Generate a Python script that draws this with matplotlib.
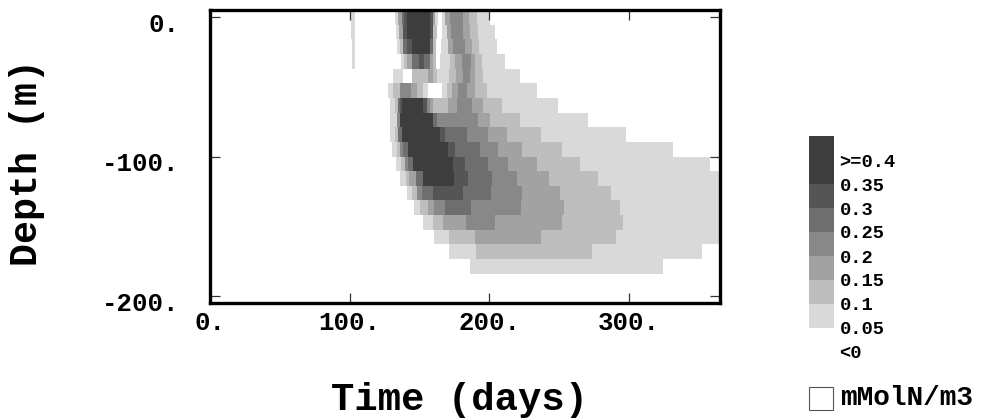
import numpy as np
import matplotlib
matplotlib.use("Agg")
import matplotlib.pyplot as plt
from matplotlib.colors import ListedColormap, BoundaryNorm
from matplotlib.cm import ScalarMappable
from matplotlib.patches import Rectangle
from matplotlib.transforms import ScaledTranslation

# ---------------- data ----------------
# depth levels (cell centres, m)
depth_step = 10.5
depths = -depth_step * np.arange(20)

# each row: (start_day, concentration) runs; value holds until the next start
r00 = [(100.7, .07), (103.8, 0), (132.4, .07), (134.8, .17), (137.2, .27), (138.9, .32), (140.8, .42), (157.5, .32), (159.4, .17), (161.1, .07), (163.5, 0), (165.8, .07), (168.2, .17), (171.8, .22), (181.4, .17), (185.6, .12), (190.9, .07), (200.4, 0)]
r01 = [(100.9, .07), (103.8, 0), (133.2, .07), (135.5, .17), (138.4, .32), (140.8, .42), (157.5, .32), (159.9, .12), (162.3, 0), (165.8, .07), (169.4, .17), (172.3, .22), (181.4, .17), (186.1, .12), (192.1, .07), (204.0, 0)]
r02 = [(101.4, .07), (103.8, 0), (133.6, .07), (136.0, .12), (138.4, .27), (140.8, .32), (144.4, .42), (157.5, .27), (159.4, .12), (161.8, 0), (165.4, .07), (170.6, .17), (173.7, .22), (182.5, .17), (187.3, .12), (192.8, .07), (205.2, 0)]
r03 = [(101.4, .07), (103.8, 0), (136.5, .07), (138.9, .12), (141.3, .17), (144.4, .27), (149.9, .32), (153.4, .27), (157.5, .17), (159.9, .12), (161.8, 0), (164.6, .07), (171.8, .12), (175.4, .17), (180.2, .22), (186.6, .17), (189.7, .12), (194.5, .07), (211.2, 0)]
r04 = [(130.8, .07), (138.4, 0), (144.4, .12), (156.3, .17), (159.9, .12), (162.3, .07), (171.3, .12), (176.1, .17), (181.4, .22), (186.1, .17), (189.7, .12), (195.7, .07), (221.9, 0)]
r05 = [(127.7, .07), (131.2, .12), (136.0, .22), (143.7, .17), (147.9, .12), (152.7, .07), (156.3, 0), (165.8, .07), (169.4, .12), (173.0, .17), (177.8, .22), (183.7, .17), (189.7, .12), (198.1, .07), (233.8, 0)]
r06 = [(128.9, .07), (132.4, .12), (134.8, .27), (136.0, .32), (137.2, .42), (152.7, .32), (155.1, .22), (157.5, .17), (159.9, .12), (170.6, .17), (176.6, .22), (187.3, .17), (195.7, .12), (208.8, .07), (249.3, 0)]
r07 = [(128.9, .07), (133.6, .22), (136.0, .42), (159.9, .27), (162.3, .22), (192.1, .17), (200.4, .12), (221.9, .07), (270.8, 0)]
r08 = [(128.9, .07), (132.4, .12), (134.8, .27), (137.2, .42), (164.6, .32), (168.2, .27), (183.7, .22), (199.2, .17), (212.4, .12), (236.7, .07), (297.8, 0)]
r09 = [(130.1, .07), (133.6, .12), (136.0, .22), (138.4, .27), (142.0, .42), (170.6, .32), (175.4, .27), (193.3, .22), (206.4, .17), (223.1, .12), (251.7, .07), (331.2, 0)]
r10 = [(133.1, .07), (136.7, .12), (139.6, .22), (142.0, .27), (145.6, .42), (174.2, .32), (182.5, .27), (199.2, .22), (213.5, .17), (233.8, .12), (264.8, .07), (357.9, 0)]
r11 = [(136.0, .07), (140.3, .12), (142.7, .17), (147.5, .27), (152.2, .42), (174.7, .32), (184.9, .27), (201.6, .22), (219.5, .17), (242.7, .12), (278.0, .07)]
r12 = [(141.3, .07), (144.4, .12), (147.9, .22), (151.5, .27), (159.4, .32), (180.9, .27), (201.1, .22), (223.1, .17), (250.5, .12), (287.0, .07)]
r13 = [(146.0, .07), (150.3, .12), (155.8, .17), (160.3, .22), (168.2, .27), (186.6, .22), (222.6, .17), (253.4, .12), (293.5, .07)]
r14 = [(152.7, .07), (159.4, .12), (167.0, .17), (183.2, .22), (204.0, .17), (252.0, .12), (295.9, .07)]
r15 = [(160.3, .07), (171.1, .12), (189.7, .17), (236.9, .12), (290.6, .07)]
r16 = [(171.1, .07), (190.2, .12), (273.4, .07), (352.2, 0)]
r17 = [(186.1, .07), (324.5, 0)]
r18 = []
r19 = []
rows = [r00, r01, r02, r03, r04, r05, r06, r07, r08, r09,
        r10, r11, r12, r13, r14, r15, r16, r17, r18, r19]

day_range = (0, 365)
level_bounds = [-0.05, 0, 0.05, 0.1, 0.15, 0.2, 0.25, 0.3, 0.35, 0.4, 0.45]
level_colors = ['#ffffff', '#ffffff', '#d9d9d9', '#bebebe', '#a2a2a2',
                '#888888', '#6e6e6e', '#555555', '#3d3d3d', '#3d3d3d']
legend_ticks = [0, 0.05, 0.1, 0.15, 0.2, 0.25, 0.3, 0.35, 0.4]
legend_labels = ['<0', '0.05', '0.1', '0.15', '0.2', '0.25', '0.3', '0.35', '>=0.4']
xticks = [0, 100, 200, 300]
xtick_labels = ['0.', '100.', '200.', '300.']
yticks = [0, -100, -200]
ytick_labels = ['0.', '-100.', '-200.']

# ---------------- build field ----------------
x_edges = np.array(sorted(set(list(day_range) + [d for r in rows for d, _ in r])))
mids = 0.5 * (x_edges[:-1] + x_edges[1:])
Z = np.zeros((len(rows), len(mids)))
for i, r in enumerate(rows):
    if not r:
        continue
    days = np.array([d for d, _ in r])
    vals = np.array([v for _, v in r])
    idx = np.searchsorted(days, mids, side='right') - 1
    Z[i] = np.where(idx >= 0, vals[np.clip(idx, 0, None)], 0.0)
y_edges = np.concatenate([depths + depth_step / 2, [depths[-1] - depth_step / 2]])

cmap = ListedColormap(level_colors)
norm = BoundaryNorm(level_bounds, cmap.N)

# ---------------- figure ----------------
W, H = 983, 420
fig = plt.figure(figsize=(W / 100, H / 100), dpi=100)
FONT = 'Liberation Mono'

ax = fig.add_axes([210 / W, 1 - 303 / H, 510 / W, 293 / H])
ax.pcolormesh(x_edges, y_edges, Z, cmap=cmap, norm=norm, shading='flat',
              antialiased=False, edgecolors='none')
ax.set_xlim(*day_range)
ax.set_ylim(y_edges[-1], y_edges[0])
for s in ax.spines.values():
    s.set_linewidth(2.4)
    s.set_color('black')
ax.set_xticks(xticks)
ax.set_xticklabels(xtick_labels)
ax.set_yticks(yticks)
ax.set_yticklabels(ytick_labels)
ax.tick_params(direction='in', length=7, width=0.9, color='#333333',
               top=True, right=True, labelsize=18.5)
ax.tick_params(axis='x', pad=6)
ax.tick_params(axis='y', pad=22)
for lab in ax.get_xticklabels() + ax.get_yticklabels():
    lab.set_fontfamily(FONT)
    lab.set_fontweight('bold')
for lab in ax.get_yticklabels():
    lab.set_transform(lab.get_transform() + ScaledTranslation(0, -5 / 100, fig.dpi_scale_trans))

fig.text(27 / W, 1 - 162 / H, 'Depth (m)', rotation=90, ha='center', va='center',
         fontsize=27.5, fontweight='bold', family=FONT)
fig.text(460 / W, 1 - 400 / H, 'Time (days)', ha='center', va='center',
         fontsize=28, fontweight='bold', family=FONT)

# ---------------- legend (colour bar) ----------------
cax = fig.add_axes([809 / W, 1 - 376 / H, 25 / W, 240 / H])
cb = fig.colorbar(ScalarMappable(norm=norm, cmap=cmap), cax=cax, ticks=legend_ticks)
cb.outline.set_visible(False)
cb.ax.minorticks_off()
cb.ax.set_yticklabels(legend_labels)
cb.ax.tick_params(which='both', length=0, pad=4, labelsize=13.5)
for lab in cb.ax.get_yticklabels():
    lab.set_fontfamily(FONT)
    lab.set_fontweight('bold')

fig.add_artist(Rectangle((809 / W, 1 - 410 / H), 24 / W, 23 / H, transform=fig.transFigure,
                         fill=False, ec='#555555', lw=0.8))
fig.text(840 / W, 1 - 398 / H, 'mMolN/m3', ha='left', va='center',
         fontsize=20, fontweight='bold', family=FONT)

fig.savefig('out.png', dpi=100)
